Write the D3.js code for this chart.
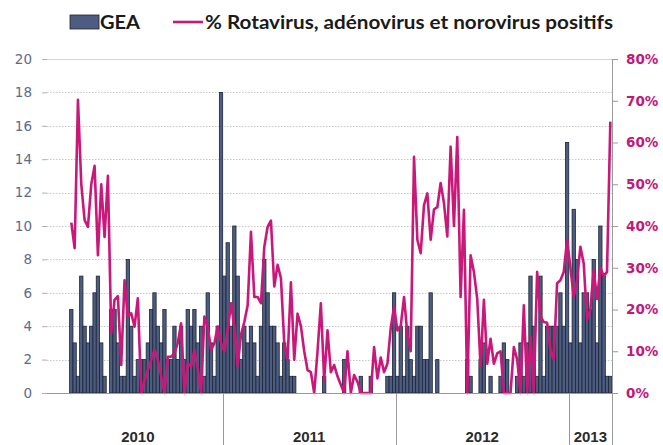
<!DOCTYPE html>
<html><head><meta charset="utf-8">
<script src="https://cdn.jsdelivr.net/npm/d3@7"></script>
<style>html,body{margin:0;padding:0;background:#fff;}svg{display:block;}</style>
</head><body>
<svg id="c" width="663" height="445"></svg>
<script>
// ---- data ----
const years = ["2010", "2011", "2012", "2013"];
const weeksPerYear = [51, 52, 52, 13];
const leftTicks = [0, 2, 4, 6, 8, 10, 12, 14, 16, 18, 20];
const rightTicks = [0, 0.1, 0.2, 0.3, 0.4, 0.5, 0.6, 0.7, 0.8];
const seriesBarName = "GEA";
const seriesLineName = "% Rotavirus, adénovirus et norovirus positifs";

// weekly GEA counts (168 weeks)
const gea = [
  null, null, null, null, null,
  5, 3, 1, 7, 4, 3, 4, 6, 7, 3, 1, 0,
  5, 5, 3, 1, 1, 8, 4, 1, 2, 2, 2,
  3, 5, 6, 4, 3, 5, 2, 2, 4, 2, 4, 2, 5, 4, 5, 3, 4, 1, 6, 3, 1, 4, 18,
  7, 9, 4, 10, 7, 2, 4, 3, 4, 3, 1, 4, 8, 6, 4, 4, 3, 1, 3, 2, 1, 1,
  0, 0, 0, 0, 0, 0, 0, 0, 1, 0, 0, 0, 0, 0, 2, 0, 0, 0, 0, 1, 0, 0, 1, 0, 0, 0, 0, 1, 1,
  6, 1, 4, 1, 4, 2, 1, 4, 4, 2, 2, 6, 0, 2,
  0, 0, 0, 0, 0, 0, 0, 0, 2, 1, 0, 0, 2, 3, 0, 1, 0, 0, 1, 3, 2, 0, 0, 1, 3, 1, 3,
  7, 4, 1, 7, 1, 4, 4, 4, 4, 6, 4, 15,
  3, 11, 8, 3, 6, 6, 5, 8, 3, 10, 7, 1, 1
];

// weekly % positive (168 weeks)
const pct = [
  null, null, null, null, null,
  40.8, 34.7, 70.2, 50, 41.4, 39.8, 50, 54.4, 33, 50, 37.4, 52,
  14.3, 22.3, 23.2, 6.7, 27, 18.3, 19.1, 15.9, 22.7, 0, 3.1,
  5.5, 7.9, 10.3, 8, 4, 0, 8.7, 8.7, 9.5, 12, 16.7, 0, 7.1, 6.3, 10.3, 6, 0, 18.3, 15.9, 10.3, 11.9, 15.9, 12,
  10, 15, 21.5, 16, 6.5, 14, 17, 21, 38.6, 23, 23, 21.5, 35, 39.8, 41.3, 25.5, 30.7, 27.5, 12, 8, 26.5, 8,
  19, 16, 10, 5.5, 5, 0, 10, 21.5, 3, 15, 5, 6.7, 4, 2, 0, 10, 0, 4.3, 2.7, 0,
  0, 0, 0, 11, 3.5, 8.5, 5, 7, 15.5, 20.7, 15, 16, 23, 14, 10,
  56.6, 36.7, 33.5, 45, 47.8, 36.7, 44, 44.5, 50.3, 45.5, 37.5, 59, 40, 61.3, 23,
  43.9, 0, 33, 29, 22.5, 6.3, 22.3, 7, 13, 7, 9.5, 10, 0, 0, 0,
  11, 8, 0, 21, 0, 13.5, 0, 29, 18.4, 17, 16.8, 10.3, 8, 26.3, 27,
  29, 36.7, 30, 23, 27, 35, 31, 17.5, 20, 29.5, 22.5, 30, 28, 29, 65
];

// category keys built from years / week counts
const categories = [];
years.forEach((y, k) => { for (let w = 1; w <= weeksPerYear[k]; w++) categories.push(y + "-" + w); });

// ---- chart ----
const svg = d3.select("#c");
const x = d3.scaleBand().domain(categories).range([53, 612]).padding(0);
const yL = d3.scaleLinear().domain([0, 20]).range([393, 59]);
const yR = d3.scaleLinear().domain([0, 0.8]).range([393, 59]);

// gridlines
svg.append("g").selectAll("line").data(leftTicks.filter(t => t > 0)).join("line")
  .attr("x1", 47).attr("x2", 612)
  .attr("y1", d => Math.round(yL(d)) + 0.5).attr("y2", d => Math.round(yL(d)) + 0.5)
  .attr("stroke", d => d === 20 ? "#d6d6d6" : "#c9c9c9")
  .attr("stroke-dasharray", d => d === 20 ? null : "1.5,1.5");

// bars
const barData = categories.map((c, i) => ({c, v: gea[i]})).filter(d => d.v);
svg.append("g").selectAll("rect").data(barData).join("rect")
  .attr("x", d => x(d.c)).attr("width", x.bandwidth())
  .attr("y", d => yL(d.v)).attr("height", d => yL(0) - yL(d.v))
  .attr("fill", "#4d5d82").attr("stroke", "#1d2434").attr("stroke-width", 0.8);

// line
const lineData = categories.map((c, i) => ({c, v: pct[i]}));
svg.append("path").datum(lineData)
  .attr("fill", "none").attr("stroke", "#c9187a").attr("stroke-width", 2.6)
  .attr("stroke-linejoin", "round")
  .attr("d", d3.line().defined(d => d.v !== null)
    .x(d => x(d.c) + x.bandwidth() / 2).y(d => yR(d.v / 100)));

// baseline
svg.append("line").attr("x1", 47).attr("x2", 612).attr("y1", 393.5).attr("y2", 393.5)
  .attr("stroke", "#9a9a9a");

// left axis
const gL = svg.append("g").attr("transform", "translate(47,0)")
  .call(d3.axisLeft(yL).tickValues(leftTicks).tickSize(5).tickPadding(10));
gL.select(".domain").remove();
gL.selectAll("line").attr("stroke", "#b0b0b0");
gL.selectAll("text").attr("fill", "#5d6b88").attr("font-family", "DejaVu Sans").attr("font-size", 13.5);

// right axis
const gR = svg.append("g").attr("transform", "translate(612,0)")
  .call(d3.axisRight(yR).tickValues(rightTicks).tickFormat(d3.format(".0%")).tickSize(6).tickPadding(8));
gR.select(".domain").attr("stroke", "#9a9a9a");
gR.selectAll("line").attr("stroke", "#9a9a9a");
gR.selectAll("text").attr("fill", "#c2187c").attr("font-family", "DejaVu Sans")
  .attr("font-weight", "bold").attr("font-size", 13.5);

// year groups
let start = 0;
const bounds = years.map((y, k) => {
  const s = categories[start], e = categories[start + weeksPerYear[k] - 1];
  start += weeksPerYear[k];
  return {y, x0: x(s), x1: x(e) + x.bandwidth()};
});
svg.append("g").selectAll("line").data(bounds).join("line")
  .attr("x1", d => Math.round(d.x1) + 0.5).attr("x2", d => Math.round(d.x1) + 0.5)
  .attr("y1", 393).attr("y2", 445).attr("stroke", "#9a9a9a");
svg.append("g").selectAll("text").data(bounds).join("text")
  .attr("x", d => (d.x0 + d.x1) / 2).attr("y", 442)
  .attr("text-anchor", "middle").attr("font-family", "Liberation Sans, Arial, sans-serif")
  .attr("font-weight", "bold").attr("font-size", 15).attr("fill", "#2b2b2b")
  .text(d => d.y);

// legend
const lg = svg.append("g");
lg.append("rect").attr("x", 70).attr("y", 15).attr("width", 29).attr("height", 14)
  .attr("fill", "#4d5d82").attr("stroke", "#1d2434").attr("stroke-width", 0.8);
lg.append("text").attr("x", 100).attr("y", 29).attr("font-family", "Lato, sans-serif")
  .attr("font-weight", "bold").attr("font-size", 19).attr("fill", "#1a1a1a")
  .attr("textLength", 40).attr("lengthAdjust", "spacingAndGlyphs").text(seriesBarName);
lg.append("line").attr("x1", 173).attr("x2", 203).attr("y1", 22).attr("y2", 22)
  .attr("stroke", "#c9187a").attr("stroke-width", 2.6);
lg.append("text").attr("x", 205).attr("y", 29).attr("font-family", "Lato, sans-serif")
  .attr("font-weight", "bold").attr("font-size", 19).attr("fill", "#1a1a1a")
  .attr("textLength", 408).attr("lengthAdjust", "spacingAndGlyphs").text(seriesLineName);
</script>
</body></html>
